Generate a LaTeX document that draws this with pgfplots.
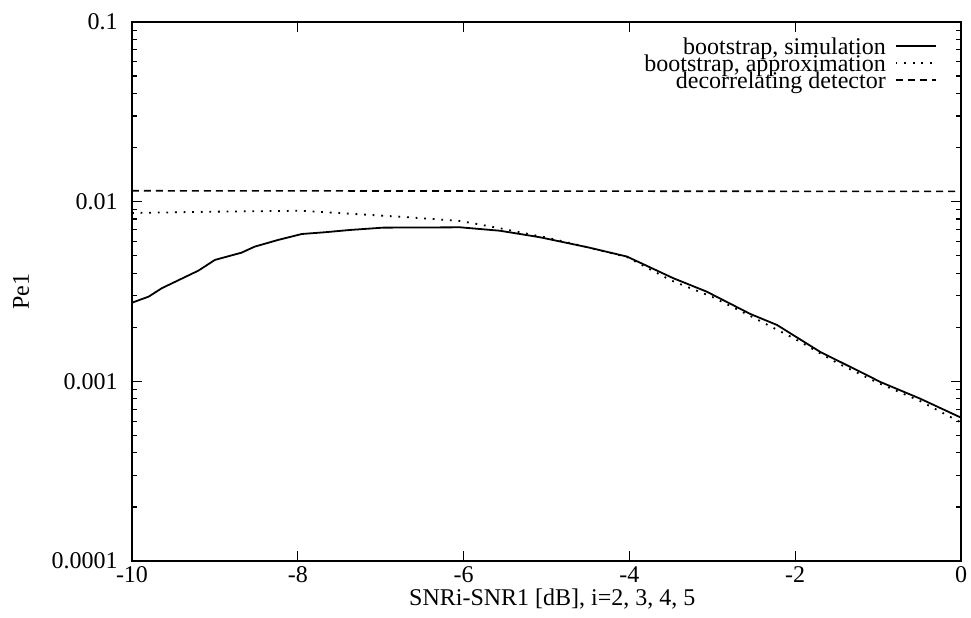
\documentclass[border=0pt]{standalone}
\usepackage{fontspec}
\setmainfont{Liberation Serif}
\usepackage{pgfplots}
\pgfplotsset{compat=1.18}
\usetikzlibrary{calc}
\begin{document}
\begin{tikzpicture}[font=\fontsize{12bp}{13bp}\selectfont]
\begin{axis}[
  scale only axis, width=414.5bp, height=269.5bp,
  xmin=-10, xmax=0, ymode=log, ymin=1e-4, ymax=0.1,
  xtick={-10,-8,...,0},
  log ticks with fixed point,
  /pgf/number format/precision=4,
  /pgf/number format/assume math mode=true,
  axis line style={line width=0.7bp},
  tick style={black, line width=0.6bp},
  major tick length=5bp, minor tick length=2.5bp,
  xticklabel style={anchor=north, inner sep=0pt, yshift=-2.5bp},
  yticklabel style={anchor=east, inner sep=0pt, xshift=-7bp},
  every axis x label/.style={at={(axis description cs:0.507,0)}, anchor=center, yshift=-19bp},
  every axis y label/.style={at={(axis description cs:-0.1339,0.5)}, anchor=center, rotate=90},
  xlabel={SNRi-SNR1 [dB], i=2, 3, 4, 5},
  ylabel={Pe1},
  legend plot pos=right,
  legend cell align=right,
  legend image code/.code={\draw[#1] (0bp,0bp) -- (20bp,0bp);},
  legend style={draw=none, fill=none, inner sep=0pt, column sep=4.5bp, row sep=0pt,
    at={(axis description cs:0.971,0.972)}, anchor=north east,
    nodes={inner sep=0pt, text height=8.5bp, text depth=0bp}},
]
\addplot[black, line width=0.9bp] coordinates {
  (-10,0.00274) (-9.80,0.00296) (-9.64,0.00330) (-9.20,0.00413) (-9.0,0.00474)
  (-8.68,0.00520) (-8.52,0.00562) (-8.24,0.00612) (-7.95,0.00661) (-7.67,0.00676)
  (-7.37,0.00696) (-6.97,0.00717) (-6.04,0.00720)
  (-5.56,0.00689) (-5.08,0.00634) (-4.5,0.00557) (-4.03,0.00495) (-3.47,0.00375)
  (-3.07,0.00316) (-2.54,0.00237) (-2.22,0.00206) (-1.70,0.00146) (-1.06,0.00104)
  (-0.98,0.000995) (-0.49,0.00080) (0,0.000628)
};
\addlegendentry{bootstrap, simulation}
\addplot[black, line width=0.9bp, dash pattern=on 0.9bp off 3.4bp] coordinates {
  (-10,0.00865) (-9,0.00880) (-7.97,0.00890) (-6.77,0.00825) (-6.04,0.00781)
  (-5.56,0.00711) (-4.96,0.00626) (-4.5,0.00557) (-4.03,0.00492) (-3.5,0.00365)
  (-3,0.00295) (-2.5,0.00226) (-2,0.00172) (-1.5,0.00127) (-1,0.00098)
  (-0.5,0.00078) (0,0.00059)
};
\addlegendentry{bootstrap, approximation}
\addplot[black, line width=0.8bp, dash pattern=on 3.5bp off 2.5bp] coordinates {
  (-10,0.0115) (-5,0.01145) (0,0.0114)
};
\addlegendentry{decorrelating detector}
\end{axis}
\pgfresetboundingbox
\path ($(current axis.south west)+(-66bp,-28.5bp)$) rectangle ($(current axis.north east)+(5bp,11bp)$);
\end{tikzpicture}
\end{document}
